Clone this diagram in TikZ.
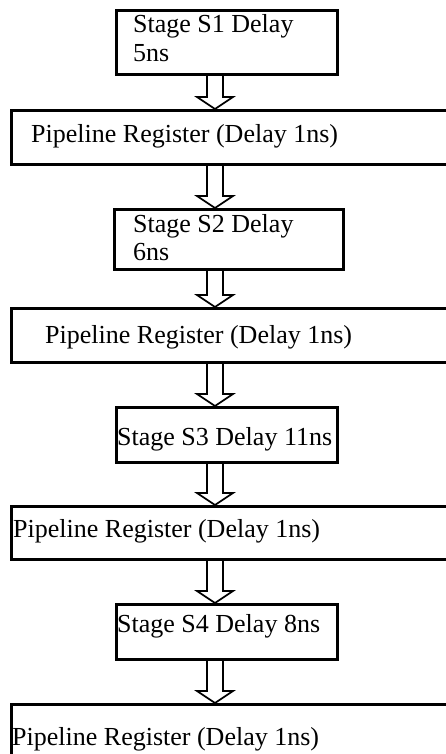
\documentclass[tikz,border=0pt]{standalone}
\usepackage{fontspec}
\setmainfont{Liberation Serif}
\usetikzlibrary{calc}
\tikzset{
  box/.style={draw, line width=2.6pt, rectangle, inner sep=0pt, anchor=north west},
  lbl/.style={anchor=base west, inner sep=0pt, font=\fontsize{26}{28.5}\selectfont},
  flow/.style={draw, line width=1.7pt, line join=miter}
}
\newcommand\hollowarrow[2]{%
  \draw[flow] ($(ax |- #1.south)+(-8,0)$) -- ($(ax |- #2.north)+(-8,-12)$) -- ++(-10,0)
    -- (ax |- #2.north) -- ($(ax |- #2.north)+(18,-12)$) -- ++(-10,0)
    -- ($(ax |- #1.south)+(8,0)$);}
\begin{document}
\begin{tikzpicture}[x=1pt,y=-1pt]
\useasboundingbox (0,0) rectangle (446,754);
\clip (0,0) rectangle (446,754);
\coordinate (ax) at (215,0);
% boxes
\node[box, minimum width=221pt, minimum height=64pt] (s1) at (115,9) {};
\node[box, minimum width=470pt, minimum height=54pt] (r1) at (10,109) {};
\node[box, minimum width=229pt, minimum height=60pt] (s2) at (113,208) {};
\node[box, minimum width=470pt, minimum height=54pt] (r2) at (10,307) {};
\node[box, minimum width=221pt, minimum height=55pt] (s3) at (115,406) {};
\node[box, minimum width=470pt, minimum height=53pt] (r3) at (10,505) {};
\node[box, minimum width=221pt, minimum height=55pt] (s4) at (115,603) {};
\node[box, minimum width=470pt, minimum height=60pt] (r4) at (10,703) {};
% texts
\node[lbl] (t1a) at (133,33) {Stage S1 Delay};
\node[lbl] (t1b) at (133,62) {5ns};
\node[lbl] (t2) at (31,143) {Pipeline Register (Delay 1ns)};
\node[lbl] (t3a) at (133,232) {Stage S2 Delay};
\node[lbl] (t3b) at (133,260) {6ns};
\node[lbl] (t4) at (45,343) {Pipeline Register (Delay 1ns)};
\node[lbl] (t5) at (117,445) {Stage S3 Delay 11ns};
\node[lbl] (t6) at (13,537) {Pipeline Register (Delay 1ns)};
\node[lbl] (t7) at (117,632) {Stage S4 Delay 8ns};
\node[lbl] (t8) at (12,745) {Pipeline Register (Delay 1ns)};
% arrows
\hollowarrow{s1}{r1}
\hollowarrow{r1}{s2}
\hollowarrow{s2}{r2}
\hollowarrow{r2}{s3}
\hollowarrow{s3}{r3}
\hollowarrow{r3}{s4}
\hollowarrow{s4}{r4}
\end{tikzpicture}
\end{document}
